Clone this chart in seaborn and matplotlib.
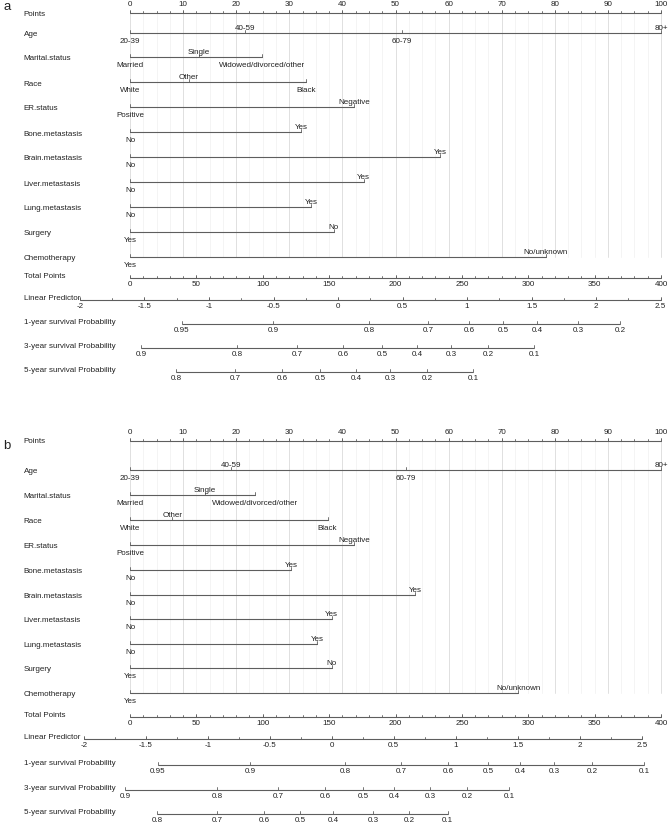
import numpy as np
import pandas as pd
import seaborn as sns
import matplotlib.pyplot as plt

sns.set_theme(style="white")
plt.rcParams['font.family'] = ['Liberation Sans', 'DejaVu Sans']

# nomogram items and their level points
ITEMS = ["Age", "Marital.status", "Race", "ER.status", "Bone.metastasis",
         "Brain.metastasis", "Liver.metastasis", "Lung.metastasis",
         "Surgery", "Chemotherapy"]
LEVELS = [["20-39", "40-59", "60-79", "80+"],
          ["Married", "Single", "Widowed/divorced/other"],
          ["White", "Other", "Black"],
          ["Positive", "Negative"],
          ["No", "Yes"],
          ["No", "Yes"],
          ["No", "Yes"],
          ["No", "Yes"],
          ["Yes", "No"],
          ["Yes", "No/unknown"]]
POINTS_A = [[0, 21.7, 51.2, 100], [0, 13.0, 24.9], [0, 11.1, 33.2], [0, 42.2],
            [0, 32.2], [0, 58.4], [0, 44.0], [0, 34.1], [0, 38.4], [0, 78.3]]
POINTS_B = [[0, 19.1, 52.0, 100], [0, 14.1, 23.5], [0, 8.0, 37.2], [0, 42.2],
            [0, 30.3], [0, 53.7], [0, 38.0], [0, 35.2], [0, 38.0], [0, 73.1]]

POINT_TICKS = list(range(0, 101, 10))
TOTAL_TICKS = list(range(0, 401, 50))
LP_TICKS = [-2, -1.5, -1, -0.5, 0, 0.5, 1, 1.5, 2, 2.5]
LP_LABELS = ["-2", "-1.5", "-1", "-0.5", "0", "0.5", "1", "1.5", "2", "2.5"]
# total points where linear predictor = 0, and total points per LP unit
LP_SCALE_A = (156.7, 97.2)
LP_SCALE_B = (152.0, 93.4)

PROB_ROWS = ["1-year survival Probability", "3-year survival Probability",
             "5-year survival Probability"]
PROB_LABELS_A = [["0.95", "0.9", "0.8", "0.7", "0.6", "0.5", "0.4", "0.3", "0.2"],
                 ["0.9", "0.8", "0.7", "0.6", "0.5", "0.4", "0.3", "0.2", "0.1"],
                 ["0.8", "0.7", "0.6", "0.5", "0.4", "0.3", "0.2", "0.1"]]
PROB_TOTAL_A = [[39.2, 107.7, 180.0, 224.5, 255.4, 281.0, 306.6, 337.5, 369.1],
                [8.3, 80.6, 125.8, 160.5, 189.8, 216.2, 241.8, 269.7, 304.3],
                [34.7, 79.1, 114.5, 143.1, 170.2, 195.9, 223.7, 258.4]]
PROB_LABELS_B = [["0.95", "0.9", "0.8", "0.7", "0.6", "0.5", "0.4", "0.3", "0.2", "0.1"],
                 ["0.9", "0.8", "0.7", "0.6", "0.5", "0.4", "0.3", "0.2", "0.1"],
                 ["0.8", "0.7", "0.6", "0.5", "0.4", "0.3", "0.2", "0.1"]]
PROB_TOTAL_B = [[21.1, 90.4, 162.0, 204.1, 239.5, 269.7, 293.8, 319.4, 348.0, 387.2],
                [-3.8, 65.5, 111.5, 146.9, 175.5, 198.9, 226.0, 253.9, 285.5],
                [20.3, 65.5, 100.9, 128.1, 152.9, 183.1, 210.2, 239.3]]

# layout: pixel row of each nomogram line (Points, 10 items, totals, LP, 3 probs)
ROWS_A = [14, 34, 58, 83, 108, 133, 158, 183, 208, 233, 258, 279, 301, 325, 349, 373]
ROWS_B = [442, 471, 496, 521, 546, 571, 596, 620, 645, 669, 694, 718, 740, 766, 791, 815]

LINE = "#5e5e5e"
TXT = "#222222"
FS = 5.8
TK = 3.0          # tick length, px
W, H = 669, 828
PX0, PXU = 130.0, 5.31   # pixel of 0 points, pixels per point
LAB_X = (23.5 - PX0) / PXU


def tp2pts(tp):
    return np.asarray(tp, dtype=float) / 4.0


def hline(ax, x0, x1, y):
    ax.plot([x0, x1], [y, y], color=LINE, lw=0.8, solid_capstyle="butt")


def ticks(ax, xs, y, length=TK):
    for x in xs:
        ax.plot([x, x], [y, y - length], color=LINE, lw=0.6)


def label(ax, x, y, s, ha="center"):
    ax.text(x, y, s, fontsize=FS, color=TXT, ha=ha, va="center")


def nomogram(ax, rows, points, lp_scale, prob_labels, prob_total):
    # grid
    for p in np.arange(0, 100.1, 2.5):
        major = abs(p % 10) < 1e-6
        ax.plot([p, p], [rows[0], rows[10]], color="0.86" if major else "0.95",
                lw=0.6, zorder=0)

    # points axis
    y = rows[0]
    label(ax, LAB_X, y, "Points", ha="left")
    hline(ax, 0, 100, y)
    ticks(ax, POINT_TICKS, y, 3.5)
    ticks(ax, np.arange(0, 100.1, 2.5), y, 2.0)
    for t in POINT_TICKS:
        label(ax, t, y - 9, str(t))

    # item rows
    seg = []
    for i, name in enumerate(ITEMS):
        seg.append({"item": name, "pts": 0.0, "row": rows[i + 1]})
        seg.append({"item": name, "pts": max(points[i]), "row": rows[i + 1]})
    sns.lineplot(data=pd.DataFrame(seg), x="pts", y="row", units="item",
                 estimator=None, sort=False, color=LINE, lw=0.8, ax=ax,
                 legend=False)
    for i, name in enumerate(ITEMS):
        y = rows[i + 1]
        label(ax, LAB_X, y + 1, name, ha="left")
        ticks(ax, points[i], y)
        for j, (lev, p) in enumerate(zip(LEVELS[i], points[i])):
            label(ax, p, y + 7.5 if j % 2 == 0 else y - 5.5, lev)

    # total points
    y = rows[11]
    label(ax, LAB_X, y - 2, "Total Points", ha="left")
    hline(ax, 0, 100, y)
    ticks(ax, tp2pts(TOTAL_TICKS), y)
    ticks(ax, tp2pts(np.arange(0, 401, 10)), y, 2.0)
    for t in TOTAL_TICKS:
        label(ax, t / 4.0, y + 6, str(t))

    # linear predictor
    y = rows[12]
    zero, unit = lp_scale
    lp_x = tp2pts(zero + np.array(LP_TICKS) * unit)
    label(ax, LAB_X, y - 2, "Linear Predictor", ha="left")
    hline(ax, lp_x[0], lp_x[-1], y)
    ticks(ax, lp_x, y)
    ticks(ax, tp2pts(zero + np.arange(-2, 2.51, 0.25) * unit), y, 2.0)
    for x, t in zip(lp_x, LP_LABELS):
        label(ax, x, y + 6, t)

    # survival probabilities
    for k, name in enumerate(PROB_ROWS):
        y = rows[13 + k]
        xs = tp2pts(prob_total[k])
        label(ax, LAB_X, y - 2, name, ha="left")
        hline(ax, xs[0], xs[-1], y)
        ticks(ax, xs, y)
        for x, t in zip(xs, prob_labels[k]):
            label(ax, x, y + 6, t)


fig = plt.figure(figsize=(W / 100, H / 100), dpi=100)
ax = fig.add_axes([0, 0, 1, 1])
ax.set_xlim(-PX0 / PXU, (W - PX0) / PXU)
ax.set_ylim(H, 0)
ax.axis("off")

nomogram(ax, ROWS_A, POINTS_A, LP_SCALE_A, PROB_LABELS_A, PROB_TOTAL_A)
nomogram(ax, ROWS_B, POINTS_B, LP_SCALE_B, PROB_LABELS_B, PROB_TOTAL_B)

fig.text(3 / W, 1 - 7 / H, "a", fontsize=9.5, color=TXT, va="center")
fig.text(3 / W, 1 - 446 / H, "b", fontsize=9.5, color=TXT, va="center")

fig.savefig("out.png", dpi=100)
